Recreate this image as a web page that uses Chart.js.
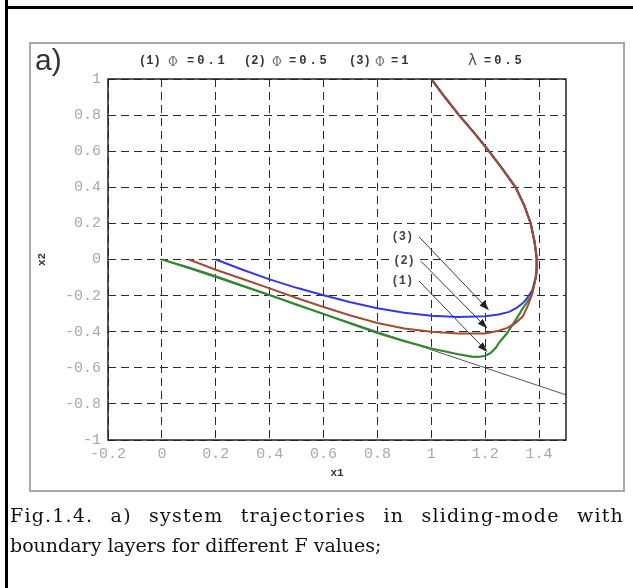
<!DOCTYPE html>
<html>
<head>
<meta charset="utf-8">
<script src="https://cdn.jsdelivr.net/npm/chart.js@4"></script>
<style>
  html, body { margin:0; padding:0; background:#fff; }
  #page { position:relative; width:633px; height:588px; overflow:hidden; background:#fff; }
  .abs { position:absolute; white-space:pre; }
  #vline { position:absolute; left:5px; top:0; width:3px; height:588px; background:#000; }
  #hline { position:absolute; left:5px; top:6px; width:628px; height:3px; background:#000; }
  #panel { position:absolute; left:29px; top:42px; width:596px; height:450px; box-sizing:border-box; border:2px solid #a9a9a9; }
  #c { position:absolute; left:0; top:0; }
  .hd { font:bold 12px "Liberation Mono", monospace; color:#333; line-height:12px; top:55px; }
  .val { letter-spacing:3px; }
  .phi { font:12px "DejaVu Serif", serif; color:#777; line-height:12px; top:56px; }
  .cap { position:absolute; left:10px; width:614px; font:19px "DejaVu Serif", serif; line-height:29px; color:#111; }
  #cap1 { top:501px; text-align:justify; text-align-last:justify; letter-spacing:1.2px; }
  #cap2 { top:531px; text-align:left; }
</style>
</head>
<body>
<div id="page">
  <div id="vline"></div>
  <div id="hline"></div>
  <div id="panel"></div>
  <canvas id="c" width="633" height="588"></canvas>
  <div class="abs" style="left:35px;top:45px;font:30px 'Liberation Sans',sans-serif;color:#333;line-height:30px;">a)</div>
  <span class="abs hd" style="left:139px">(1)</span><span class="abs phi" style="left:168px">Φ</span><span class="abs hd val" style="left:187px">=0.1</span>
  <span class="abs hd" style="left:244px">(2)</span><span class="abs phi" style="left:272px">Φ</span><span class="abs hd val" style="left:289px">=0.5</span>
  <span class="abs hd" style="left:349px">(3)</span><span class="abs phi" style="left:375px">Φ</span><span class="abs hd val" style="left:391px">=1</span>
  <span class="abs" style="left:468px;top:53px;font:15px 'DejaVu Sans',sans-serif;color:#555;line-height:15px;">λ</span><span class="abs hd val" style="left:484px">=0.5</span>
  <div id="cap1" class="cap">Fig.1.4. a) system trajectories in sliding-mode with</div>
  <div id="cap2" class="cap">boundary layers for different F values;</div>
</div>
<script>
// ---- data ----
const xTickValues = [-0.2, 0, 0.2, 0.4, 0.6, 0.8, 1, 1.2, 1.4];
const yTickValues = [-1, -0.8, -0.6, -0.4, -0.2, 0, 0.2, 0.4, 0.6, 0.8, 1];

// shared reaching phase from (1,1)
const reachX = [1.0, 1.05, 1.103, 1.16, 1.214, 1.265, 1.313, 1.345, 1.369, 1.383, 1.392];
const reachY = [1.0, 0.9, 0.8, 0.7, 0.6, 0.5, 0.4, 0.3, 0.2, 0.1, 0.0];

// (3) phi = 1  (blue)
const phi3X = [1.393, 1.388, 1.375, 1.355, 1.338, 1.315, 1.289, 1.25, 1.2, 1.1, 1.0, 0.9, 0.8, 0.7, 0.6, 0.5, 0.4, 0.3, 0.2];
const phi3Y = [-0.03, -0.1, -0.17, -0.215, -0.244, -0.27, -0.29, -0.305, -0.314, -0.318, -0.311, -0.295, -0.27, -0.237, -0.198, -0.157, -0.11, -0.057, 0];

// (2) phi = 0.5 (brown)
const phi2X = [1.392, 1.385, 1.375, 1.36, 1.34, 1.31, 1.28, 1.25, 1.2, 1.1, 1.0, 0.9, 0.8, 0.7, 0.6, 0.5, 0.4, 0.3, 0.2, 0.1];
const phi2Y = [-0.05, -0.12, -0.19, -0.25, -0.315, -0.355, -0.38, -0.395, -0.41, -0.41, -0.4, -0.382, -0.352, -0.31, -0.263, -0.213, -0.16, -0.108, -0.057, 0];

// (1) phi = 0.1 (green)
const phi1X = [1.39, 1.38, 1.369, 1.34, 1.313, 1.28, 1.252, 1.24, 1.22, 1.2, 1.175, 1.15, 1.1, 1.0, 0.9, 0.8, 0.7, 0.6, 0.5, 0.4, 0.3, 0.2, 0.1, 0];
const phi1Y = [-0.08, -0.15, -0.207, -0.27, -0.336, -0.41, -0.46, -0.488, -0.518, -0.533, -0.54, -0.538, -0.525, -0.493, -0.452, -0.407, -0.355, -0.302, -0.25, -0.197, -0.145, -0.093, -0.045, 0];

// sliding line x2 = -lambda * x1
const slideX = [0, 1.5];
const slideY = [0, -0.75];

// annotation arrows
const arrowLabels = ["(3)", "(2)", "(1)"];
const arrowFromX = [0.955, 0.961, 0.955];
const arrowFromY = [0.125, -0.009, -0.12];
const arrowToX = [1.214, 1.208, 1.208];
const arrowToY = [-0.281, -0.382, -0.512];

function pts(xs, ys) { return xs.map((x, i) => ({ x: x, y: ys[i] })); }
function fmt(v) { return String(Math.round(v * 10) / 10); }

const framePlugin = {
  id: 'frame',
  afterDatasetsDraw(chart) {
    const { ctx, chartArea: a, scales } = chart;
    ctx.save();
    ctx.font = 'bold 12px "Liberation Mono", monospace';
    ctx.textAlign = 'right';
    ctx.textBaseline = 'middle';
    for (let i = 0; i < arrowLabels.length; i++) {
      const x1 = scales.x.getPixelForValue(arrowFromX[i]);
      const y1 = scales.y.getPixelForValue(arrowFromY[i]);
      const x2 = scales.x.getPixelForValue(arrowToX[i]);
      const y2 = scales.y.getPixelForValue(arrowToY[i]);
      const ang = Math.atan2(y2 - y1, x2 - x1);
      const L = 10, W = 3.5;
      ctx.strokeStyle = '#3a3a3a';
      ctx.fillStyle = '#222';
      ctx.lineWidth = 1;
      ctx.beginPath();
      ctx.moveTo(x1, y1);
      ctx.lineTo(x2 - L * Math.cos(ang), y2 - L * Math.sin(ang));
      ctx.stroke();
      ctx.beginPath();
      ctx.moveTo(x2, y2);
      ctx.lineTo(x2 - L * Math.cos(ang) - W * Math.sin(ang), y2 - L * Math.sin(ang) + W * Math.cos(ang));
      ctx.lineTo(x2 - L * Math.cos(ang) + W * Math.sin(ang), y2 - L * Math.sin(ang) - W * Math.cos(ang));
      ctx.closePath();
      ctx.fill();
      const tw = ctx.measureText(arrowLabels[i]).width;
      ctx.fillStyle = '#fff';
      ctx.fillRect(x1 - 6 - tw - 2, y1 - 7, tw + 4, 14);
      ctx.fillStyle = '#444';
      ctx.fillText(arrowLabels[i], x1 - 6, y1);
    }
    ctx.strokeStyle = '#222';
    ctx.lineWidth = 1.5;
    ctx.setLineDash([]);
    ctx.strokeRect(a.left, a.top, a.right - a.left, a.bottom - a.top);
    ctx.restore();
  }
};

new Chart(document.getElementById('c'), {
  type: 'scatter',
  data: {
    datasets: [
      { label: '(3)', data: pts(reachX.concat(phi3X), reachY.concat(phi3Y)), borderColor: '#3838e0', borderWidth: 2, order: 2 },
      { label: '(2)', data: pts(reachX.concat(phi2X), reachY.concat(phi2Y)), borderColor: '#a54a34', borderWidth: 2, order: 1 },
      { label: '(1)', data: pts(reachX.concat(phi1X), reachY.concat(phi1Y)), borderColor: '#2f8a30', borderWidth: 2.2, order: 3 },
      { label: 's', data: pts(slideX, slideY), borderColor: '#555', borderWidth: 1, order: 4 }
    ].map(d => Object.assign(d, { showLine: true, pointRadius: 0, tension: 0, fill: false }))
  },
  options: {
    responsive: false,
    animation: false,
    devicePixelRatio: 1,
    layout: { padding: { left: 30, top: 79, right: 67, bottom: 108 } },
    plugins: { legend: { display: false }, tooltip: { enabled: false } },
    scales: {
      x: {
        type: 'linear', min: -0.2, max: 1.5,
        afterBuildTicks: s => { s.ticks = xTickValues.map(v => ({ value: v })); },
        afterFit: s => { s.height = 40; },
        grid: { color: '#2a2a2a', lineWidth: 1, drawTicks: false },
        border: { display: false, dash: [8, 5] },
        ticks: { font: { family: 'Liberation Mono', size: 15 }, color: '#a8a8a8', padding: 5, maxRotation: 0, callback: v => fmt(v) },
        title: { display: true, text: 'x1', font: { family: 'Liberation Mono', size: 11, weight: 'bold' }, color: '#333', padding: { top: 0, bottom: 0 } }
      },
      y: {
        type: 'linear', min: -1, max: 1,
        afterBuildTicks: s => { s.ticks = yTickValues.map(v => ({ value: v })); },
        afterFit: s => { s.width = 78; },
        grid: { color: '#2a2a2a', lineWidth: 1, drawTicks: false },
        border: { display: false, dash: [8, 5] },
        ticks: { font: { family: 'Liberation Mono', size: 15 }, color: '#a8a8a8', padding: 7, callback: v => fmt(v) },
        title: { display: true, text: 'x2', font: { family: 'Liberation Mono', size: 11, weight: 'bold' }, color: '#333', padding: { top: 6, bottom: 0 } }
      }
    }
  },
  plugins: [framePlugin]
});
</script>
</body>
</html>
